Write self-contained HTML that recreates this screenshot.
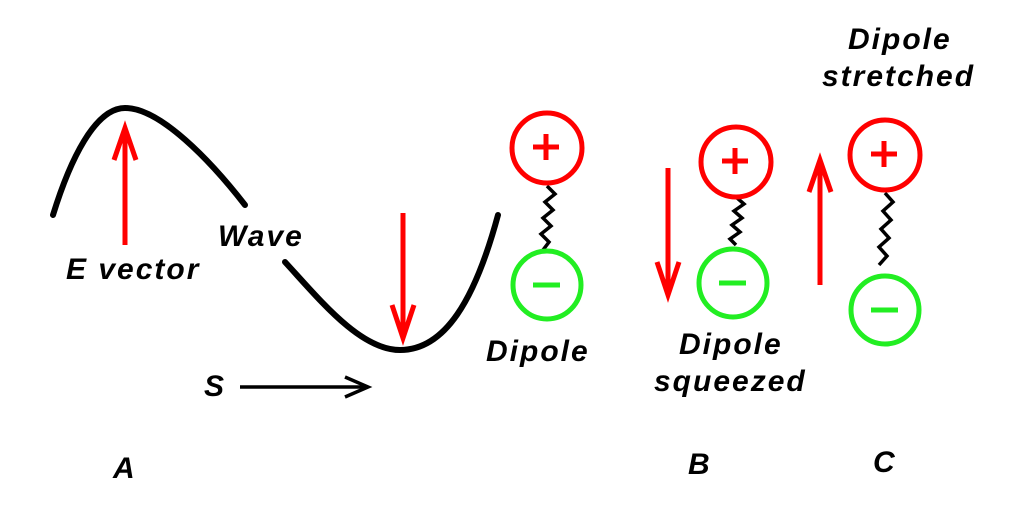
<!DOCTYPE html>
<html><head><style>body{margin:0;background:#fff}</style></head><body>
<svg width="1024" height="512" xmlns="http://www.w3.org/2000/svg" font-family="Liberation Sans, sans-serif" font-weight="bold" font-style="italic" font-size="30" letter-spacing="2">
<rect width="1024" height="512" fill="#fff"/>
<g fill="none" stroke="#000" stroke-width="6" stroke-linecap="round">
<path d="M53,215 C70,160 95,108 125,108 C160,108 210,160 245,205"/>
<path d="M285,262 C320,300 360,350 400,350 C445,350 475,300 498,215"/>
</g>
<g stroke="#f00" stroke-width="5" fill="none">
<line x1="125" y1="245" x2="125" y2="128"/><path d="M114,160 L125,128 L136,160"/>
<line x1="403" y1="213" x2="403" y2="335"/><path d="M392,305 L403,338 L414,305"/>
<line x1="668" y1="168" x2="668" y2="290"/><path d="M657,262 L668,295 L679,262"/>
<line x1="820" y1="285" x2="820" y2="165"/><path d="M809,192 L820,160 L831,192"/>
</g>
<g stroke="#000" stroke-width="3.5" fill="none">
<line x1="240" y1="387" x2="368" y2="387"/><path d="M345,377 L368,387 L345,397"/>
<path d="M547,186 l8,8 -10,8 8,8 -10,8 8,8 -10,8 8,8 -6,8"/>
<path d="M736,197 l8,7 -10,7 8,7 -10,7 8,7 -10,7 6,6"/>
<path d="M885,193 l8,9 -10,9 8,9 -10,9 8,9 -10,9 8,9 -8,9"/>
</g>
<g stroke-width="5" fill="none">
<circle cx="547" cy="148" r="35" stroke="#f00"/><circle cx="547" cy="285" r="34" stroke="#2e2"/>
<circle cx="736" cy="162" r="35" stroke="#f00"/><circle cx="733" cy="283" r="34" stroke="#2e2"/>
<circle cx="885" cy="155" r="35" stroke="#f00"/><circle cx="885" cy="310" r="34" stroke="#2e2"/>
</g>
<g stroke-width="5">
<path d="M533,147 h26 M546,134 v26" stroke="#f00"/><path d="M533,285 h27" stroke="#2e2"/>
<path d="M722,161 h26 M735,148 v26" stroke="#f00"/><path d="M719,283 h27" stroke="#2e2"/>
<path d="M871,154 h26 M884,141 v26" stroke="#f00"/><path d="M871,310 h27" stroke="#2e2"/>
</g>
<g fill="#000">
<text x="218" y="246">Wave</text>
<text x="66" y="279">E vector</text>
<text x="486" y="361">Dipole</text>
<text x="679" y="354">Dipole</text>
<text x="654" y="391">squeezed</text>
<text x="848" y="49">Dipole</text>
<text x="822" y="86">stretched</text>
<text x="204" y="396">S</text>
<text x="113" y="478">A</text>
<text x="688" y="474">B</text>
<text x="873" y="472">C</text>
</g>
</svg>
</body></html>
